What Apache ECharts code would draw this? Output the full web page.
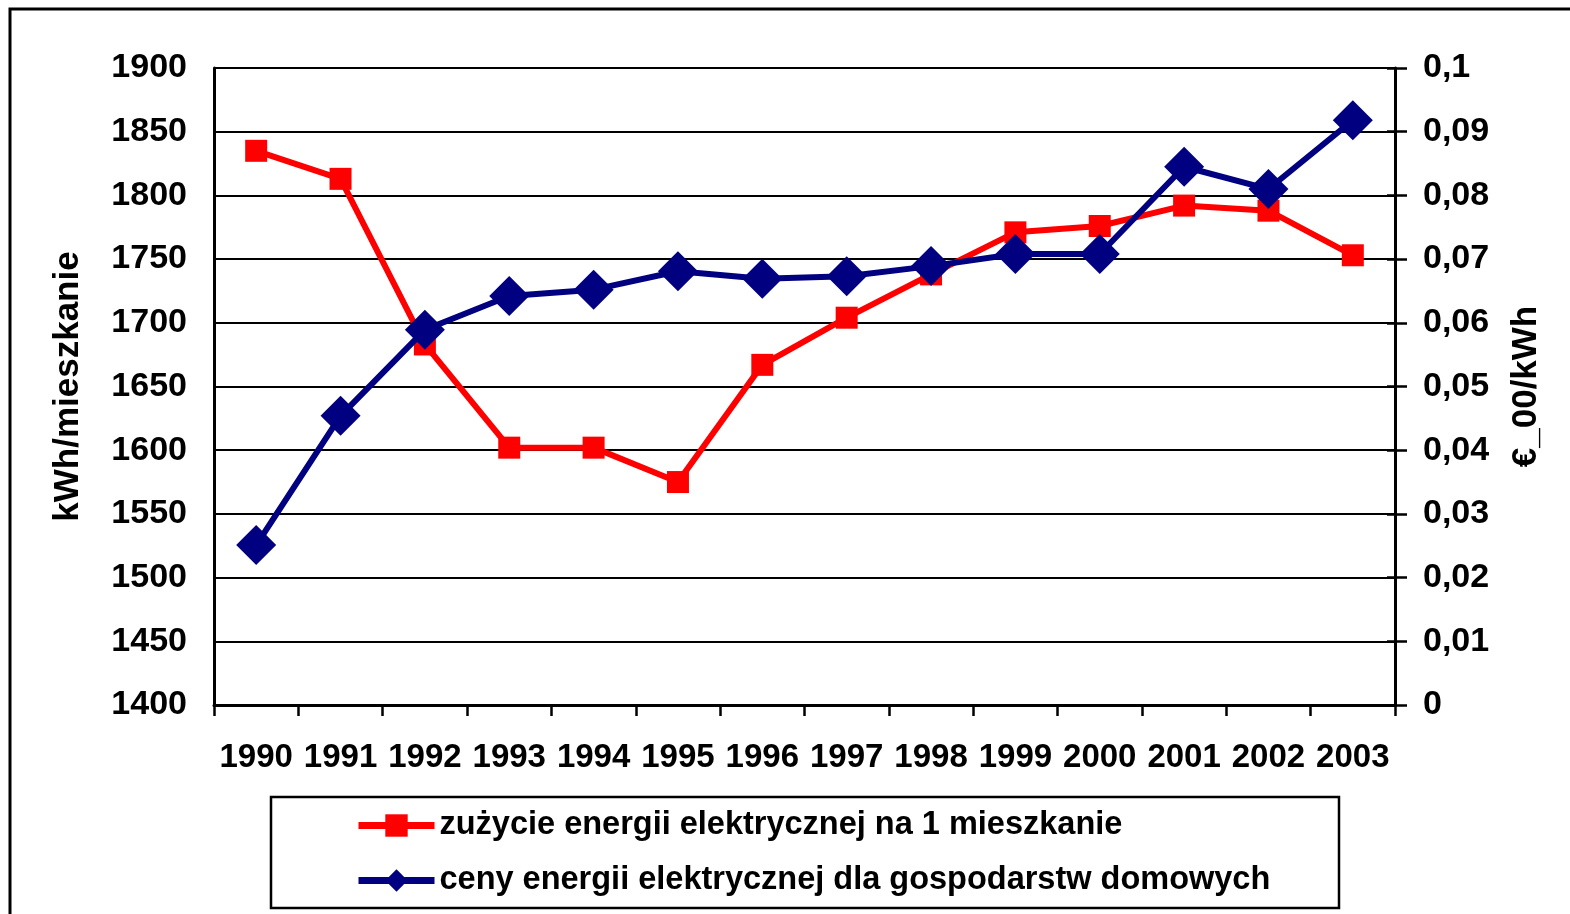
<!DOCTYPE html>
<html>
<head>
<meta charset="utf-8">
<script src="https://cdn.jsdelivr.net/npm/echarts@6/dist/echarts.min.js"></script>
<style>
  html, body { margin: 0; padding: 0; background: #fff; }
  #chart { width: 1570px; height: 914px; }
</style>
</head>
<body>
<div id="chart"></div>
<script>
// lata
const years = ['1990', '1991', '1992', '1993', '1994', '1995', '1996',
  '1997', '1998', '1999', '2000', '2001', '2002', '2003'];

// kWh na mieszkanie
const consumption = [1835, 1813, 1683, 1602, 1602, 1575, 1667,
  1704, 1738, 1771, 1776, 1792, 1788, 1753];

// EUR/kWh
const prices = [0.0251, 0.0454, 0.0589, 0.0642, 0.0652, 0.0681, 0.0669,
  0.0673, 0.0689, 0.0708, 0.0708, 0.0845, 0.0810, 0.0918];

const consumptionName = 'zużycie energii elektrycznej na 1 mieszkanie';
const pricesName = 'ceny energii elektrycznej dla gospodarstw domowych';

const font = 'Liberation Sans, Arial, sans-serif';

var myChart = echarts.init(document.getElementById('chart'));

const option = {
  backgroundColor: '#fff',
  animation: false,
  textStyle: { fontFamily: font },
  grid: { left: 214, right: 175, top: 68, bottom: 209 },
  graphic: [
    {
      type: 'rect',
      shape: { x: 10, y: 9, width: 1575, height: 920 },
      style: { fill: 'none', stroke: '#000', lineWidth: 3 },
      silent: true
    },
    {
      type: 'rect',
      shape: { x: 271, y: 797, width: 1068, height: 111 },
      style: { fill: '#fff', stroke: '#000', lineWidth: 2.5 },
      silent: true,
      z: -1
    }
  ],
  legend: {
    orient: 'vertical',
    left: 355,
    top: 809,
    padding: 0,
    itemWidth: 76,
    itemHeight: 28,
    itemGap: 22,
    lineStyle: { width: 7 },
    textStyle: { fontFamily: font, fontWeight: 'bold', fontSize: 32.5, color: '#000' },
    data: [consumptionName, pricesName]
  },
  xAxis: {
    type: 'category',
    data: years,
    boundaryGap: true,
    axisLine: { lineStyle: { color: '#000', width: 3 } },
    axisTick: { show: true, interval: 0, length: 11, lineStyle: { color: '#000', width: 2.5 } },
    axisLabel: {
      interval: 0, hideOverlap: false,
      margin: 36, color: '#000', fontWeight: 'bold', fontSize: 33, fontFamily: font
    }
  },
  yAxis: [
    {
      type: 'value',
      min: 1400, max: 1900, interval: 50,
      position: 'left',
      name: 'kWh/mieszkanie',
      nameLocation: 'middle',
      nameRotate: 90,
      nameGap: 128,
      nameTextStyle: { fontWeight: 'bold', fontSize: 35, color: '#000', fontFamily: font },
      axisLine: { show: true, lineStyle: { color: '#000', width: 3 } },
      axisTick: { show: false },
      axisLabel: {
        margin: 27, color: '#000', fontWeight: 'bold', fontSize: 34, fontFamily: font,
        formatter: function (v) { return String(v); }
      },
      splitLine: { show: true, lineStyle: { color: '#000', width: 2 } }
    },
    {
      type: 'value',
      min: 0, max: 0.1, interval: 0.01,
      position: 'right',
      name: '€_00/kWh',
      nameLocation: 'middle',
      nameRotate: 90,
      nameGap: 114,
      nameTextStyle: { fontWeight: 'bold', fontSize: 35, color: '#000', fontFamily: font },
      axisLine: { show: true, lineStyle: { color: '#000', width: 3 } },
      axisTick: { show: true, length: 12, lineStyle: { color: '#000', width: 2.5 } },
      axisLabel: {
        margin: 28, color: '#000', fontWeight: 'bold', fontSize: 34, fontFamily: font,
        formatter: function (v) { return String(+v.toFixed(2)).replace('.', ','); }
      },
      splitLine: { show: false }
    },
    {
      // wewnętrzne kreski osi prawej
      type: 'value',
      min: 0, max: 0.1, interval: 0.01,
      position: 'right',
      axisLine: { show: false },
      axisTick: { show: true, inside: true, length: 8, lineStyle: { color: '#000', width: 2.5 } },
      axisLabel: { show: false },
      splitLine: { show: false }
    }
  ],
  series: [
    {
      name: consumptionName,
      type: 'line',
      yAxisIndex: 0,
      data: consumption,
      symbol: 'rect',
      symbolSize: 22,
      itemStyle: { color: '#ff0000' },
      lineStyle: { color: '#ff0000', width: 6 },
      z: 2
    },
    {
      name: pricesName,
      type: 'line',
      yAxisIndex: 1,
      data: prices,
      symbol: 'diamond',
      symbolSize: 40,
      itemStyle: { color: '#000080' },
      lineStyle: { color: '#000080', width: 6 },
      z: 3
    }
  ]
};

myChart.setOption(option);
</script>
</body>
</html>
